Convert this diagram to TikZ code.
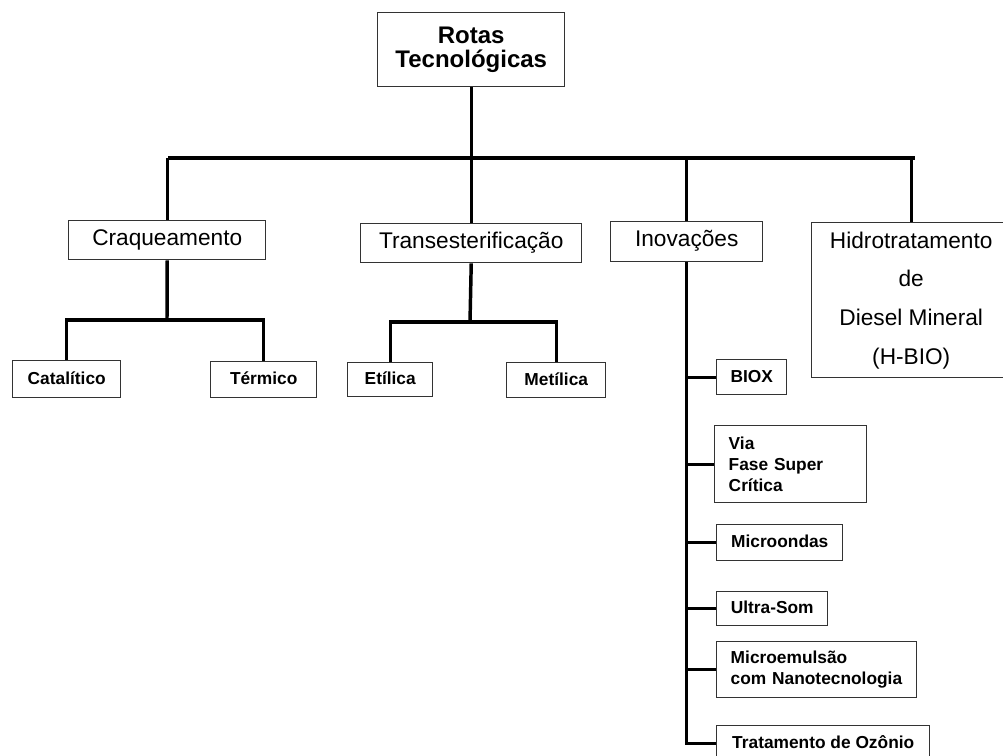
\documentclass[tikz,border=0pt]{standalone}
\usepackage{fontspec}
\setmainfont{Liberation Sans}
\begin{document}
\begin{tikzpicture}[x=0.75pt,y=-0.75pt,
  wh/.style 2 args={minimum width=#1*0.75pt, minimum height=#2*0.75pt},
  box/.style={draw=black!80, line width=1.1pt, fill=white, inner sep=0pt,
    anchor=north west, align=center},
  oneline/.style={text height=0.72em, text depth=0em},
  big/.style={box, oneline, font=\fontsize{17pt}{20pt}\selectfont},
  small/.style={box, oneline, font=\fontsize{13pt}{16pt}\selectfont\bfseries},
  lbox/.style 2 args={box, font=\fontsize{13pt}{16pt}\selectfont\bfseries,
    align=left, inner xsep=10.5pt, text width=#1*0.75pt-21pt,
    minimum height=#2*0.75pt},
  conn/.style={line width=2.6pt, black}]
  \fill[white] (0,0) rectangle (1003,756);
  \clip (0,0) rectangle (1003,756);

  % root and first level
  \node[box, wh={187}{74}, font=\fontsize{18pt}{17.5pt}\selectfont\bfseries]
    (root) at (377,12) {Rotas\\Tecnológicas};
  \node[big, wh={197}{39}] (craq)  at (68,220)  {Craqueamento};
  \node[big, wh={221}{39}] (trans) at (360,223) {Transesterificação};
  \node[big, wh={152}{40}] (inov)  at (610,221) {Inovações};
  \node[box, wh={199}{155}, font=\fontsize{17pt}{29pt}\selectfont]
    (hidro) at (811,222) {Hidrotratamento\\de\\Diesel Mineral\\(H-BIO)};

  % second level
  \node[small, wh={108}{37}] (catal) at (12,360)  {Catalítico};
  \node[small, wh={106}{36}] (term)  at (210,361) {Térmico};
  \node[small, wh={85}{34}]  (etil)  at (347,362) {Etílica};
  \node[small, wh={99}{35}]  (metil) at (506,362) {Metílica};

  % innovations column
  \node[small, wh={70}{35}]  (biox)  at (716,359) {BIOX};
  \node[lbox={152}{77}]      (via)   at (714,425) {Via\\Fase Super\\Crítica};
  \node[small, wh={126}{36}] (micro) at (716,524) {Microondas};
  \node[small, wh={111}{34}] (ultra) at (716,591) {Ultra-Som};
  \node[lbox={200}{56}]      (memul) at (716,641) {Microemulsão\\com Nanotecnologia};
  \node[small, wh={213}{36}] (trat)  at (716,725) {Tratamento de Ozônio};

  % main bus
  \coordinate (busL) at (168,158);
  \coordinate (busR) at (915,158);
  \draw[conn] (busL) -- (busR);
  \draw[conn] (root.south) -- (root.south |- busL);
  \draw[conn] (craq.north) -- (craq.north |- busL);
  \draw[conn] (trans.north) -- (trans.north |- busL);
  \draw[conn] (inov.north) -- (inov.north |- busL);
  \draw[conn] (hidro.north) -- (hidro.north |- busL);

  % cracking branch
  \coordinate (cj) at (167,320);
  \draw[conn] (craq.south) -- (cj);
  \draw[conn] (catal.north) |- (cj) -| (term.north);

  % transesterification branch
  \coordinate (tj) at (470,322);
  \draw[conn] (trans.south) -- (tj);
  \draw[conn] (etil.north) |- (tj) -| (metil.north);

  % innovations spine
  \draw[conn] (inov.south) -- (inov.south |- trat.west) -- (trat.west);
  \foreach \n in {biox,via,micro,ultra,memul}
    \draw[conn] (inov.south |- \n.west) -- (\n.west);
\end{tikzpicture}
\end{document}
